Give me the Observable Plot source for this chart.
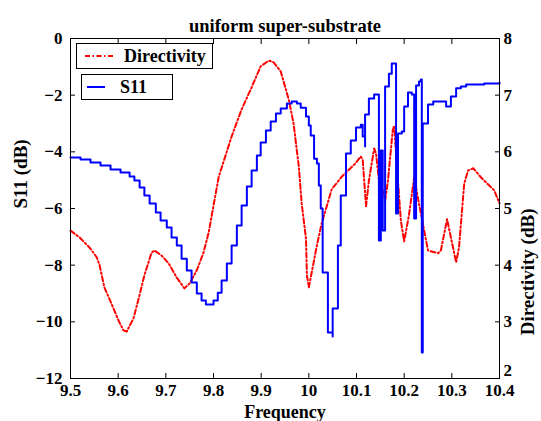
<!DOCTYPE html>
<html><head><meta charset="utf-8">
<script src="https://cdn.jsdelivr.net/npm/d3@7"></script>
<script src="https://cdn.jsdelivr.net/npm/@observablehq/plot@0.6"></script>
<style>body{margin:0;background:#fff} svg{display:block} svg text{font-family:"Liberation Serif","Times New Roman",Tinos,"DejaVu Serif",serif !important;}</style>
</head><body><div id="chart"></div>
<script>
const s11Freq = [9.500,9.521,9.542,9.563,9.584,9.605,9.624,9.634,9.645,9.655,9.666,9.679,9.689,9.702,9.712,9.723,9.733,9.744,9.754,9.765,9.775,9.784,9.794,9.800,9.809,9.817,9.828,9.838,9.849,9.859,9.870,9.880,9.891,9.899,9.910,9.920,9.931,9.941,9.954,9.964,9.975,9.983,9.994,10.000,10.004,10.011,10.017,10.021,10.025,10.029,10.029,10.040,10.040,10.050,10.050,10.061,10.061,10.067,10.067,10.078,10.088,10.099,10.109,10.113,10.118,10.118,10.126,10.126,10.137,10.143,10.147,10.151,10.155,10.160,10.168,10.168,10.174,10.174,10.179,10.183,10.187,10.195,10.200,10.200,10.208,10.216,10.221,10.225,10.231,10.235,10.237,10.239,10.250,10.261,10.273,10.288,10.294,10.298,10.309,10.319,10.330,10.368,10.400];
const s11Values = [-4.20,-4.27,-4.38,-4.48,-4.62,-4.73,-4.87,-5.01,-5.26,-5.54,-5.82,-6.14,-6.42,-6.67,-7.02,-7.31,-7.77,-8.19,-8.61,-9.00,-9.25,-9.39,-9.39,-9.25,-8.97,-8.54,-7.94,-7.31,-6.60,-5.89,-5.22,-4.66,-4.13,-3.67,-3.25,-2.93,-2.65,-2.47,-2.29,-2.22,-2.29,-2.44,-2.75,-3.07,-3.42,-4.24,-4.41,-5.19,-6.00,-6.14,-8.26,-8.54,-10.38,-10.52,-9.53,-9.28,-7.31,-7.06,-5.54,-4.06,-3.60,-3.14,-3.04,-3.46,-3.81,-2.68,-2.61,-2.12,-1.98,-1.98,-7.13,-3.95,-6.78,-1.69,-1.69,-1.24,-1.16,-0.88,-0.88,-6.18,-3.35,-3.28,-3.18,-2.40,-1.91,-1.98,-6.35,-1.66,-1.52,-1.45,-11.08,-3.00,-2.33,-2.22,-2.22,-2.40,-2.40,-2.05,-1.76,-1.69,-1.62,-1.59,-1.55];

const dirFreq = [9.500,9.519,9.540,9.555,9.561,9.571,9.586,9.601,9.611,9.618,9.632,9.643,9.655,9.670,9.676,9.691,9.706,9.723,9.739,9.750,9.765,9.779,9.790,9.800,9.811,9.838,9.859,9.878,9.899,9.916,9.926,9.941,9.958,9.968,9.979,9.985,9.994,9.996,10.000,10.006,10.017,10.027,10.038,10.048,10.069,10.097,10.109,10.113,10.120,10.126,10.137,10.141,10.151,10.155,10.160,10.166,10.176,10.179,10.187,10.193,10.200,10.210,10.221,10.231,10.242,10.250,10.271,10.277,10.290,10.309,10.315,10.326,10.334,10.345,10.361,10.389,10.400];
const dirValues = [4.61,4.49,4.31,4.14,4.00,3.61,3.32,3.02,2.85,2.83,3.06,3.41,3.82,4.22,4.26,4.17,4.03,3.78,3.59,3.68,3.91,4.22,4.58,5.05,5.56,6.27,6.75,7.10,7.51,7.61,7.58,7.42,6.92,6.50,5.74,5.09,4.47,3.82,3.61,3.87,4.35,4.74,5.05,5.34,5.56,5.79,5.92,5.86,5.04,5.49,6.06,5.97,5.19,5.32,5.14,5.49,6.38,6.46,5.49,4.79,4.42,4.88,5.55,5.09,4.61,4.26,4.21,4.26,4.81,4.05,4.31,5.44,5.67,5.71,5.55,5.32,5.09];

const xTicks = [9.5,9.6,9.7,9.8,9.9,10,10.1,10.2,10.3,10.4];
const s11Ticks = [0,-2,-4,-6,-8,-10,-12];
const dirTicks = [8,7,6,5,4,3,2];
const seriesNames = ["Directivity","S11"];
const titleText = "uniform super-substrate";
const xLabel = "Frequency";
const yLeftLabel = "S11 (dB)";
const yRightLabel = "Directivity (dB)";

// map directivity (2..8) onto the S11 scale (-12..0)
const toLeft = d => (d - 8) * 2;
const fromLeft = v => v / 2 + 8;

const s11Data = s11Freq.map((f, i) => ({f, v: s11Values[i]}));
const dirData = dirFreq.map((f, i) => ({f, v: toLeft(dirValues[i])}));

const font = "Liberation Serif, Times New Roman, DejaVu Serif, serif";
const xFmt = d => d === 10 ? "10" : d.toFixed(1);
const lastRight = dirTicks[dirTicks.length - 1];

const chart = Plot.plot({
  width: 541, height: 421,
  marginLeft: 70, marginRight: 42, marginTop: 38, marginBottom: 43,
  x: {domain: [9.5, 10.4]},
  y: {domain: [-12, 0]},
  style: {fontFamily: font, fontWeight: "bold", fontSize: "17px", background: "white", color: "black", overflow: "visible"},
  marks: [
    Plot.line(dirData, {x: "f", y: "v", stroke: "#ff0000", strokeWidth: 2, strokeDasharray: "5,2.5,1.5,2.5"}),
    Plot.line(s11Data, {x: "f", y: "v", stroke: "#0000ff", strokeWidth: 2, curve: "step-after"}),
    Plot.frame({stroke: "black", strokeWidth: 1}),
    Plot.axisX(xTicks, {anchor: "bottom", tickSize: -5, tickFormat: () => "", label: null}),
    Plot.axisX(xTicks, {anchor: "top", tickSize: -5, tickFormat: () => "", label: null}),
    Plot.axisX(xTicks, {anchor: "bottom", tickSize: 0, tickPadding: 5, tickFormat: xFmt, label: null, fontSize: 17}),
    Plot.axisY(s11Ticks, {anchor: "left", tickSize: -5, tickFormat: () => "", label: null}),
    Plot.axisY(s11Ticks, {anchor: "left", tickSize: 0, tickPadding: 8, label: null, fontSize: 17}),
    Plot.axisY(dirTicks.map(toLeft), {anchor: "right", tickSize: -5, tickFormat: () => "", label: null}),
    Plot.axisY(dirTicks.filter(t => t !== lastRight).map(toLeft), {anchor: "right", tickSize: 0, tickPadding: 4, tickFormat: fromLeft, label: null, fontSize: 17}),
    Plot.axisY([toLeft(lastRight)], {anchor: "right", tickSize: 0, tickPadding: 4, tickFormat: fromLeft, label: null, fontSize: 17, dy: -8}),
    Plot.text([titleText], {frameAnchor: "top", dy: -20, fontSize: 18.5, fontWeight: "bold"}),
    Plot.text([xLabel], {frameAnchor: "bottom", dy: 39, fontSize: 18, fontWeight: "bold"}),
    Plot.text([yLeftLabel], {frameAnchor: "left", dx: -50, rotate: -90, fontSize: 19, fontWeight: "bold"}),
    Plot.text([yRightLabel], {frameAnchor: "right", dx: 28, rotate: -90, fontSize: 19, fontWeight: "bold"})
  ]
});

// legend boxes
const svg = d3.select(chart);
const lg = svg.append("g").attr("font-family", font).attr("font-size", 18).attr("font-weight", "bold").attr("text-anchor", "start");
const boxes = [
  {x: 76, y: 43, w: 136, h: 25, color: "#ff0000", dash: "5,2.5,1.5,2.5", lx1: 85, lx2: 113, tx: 124},
  {x: 81, y: 74, w: 91, h: 25, color: "#0000ff", dash: null, lx1: 87, lx2: 105, tx: 120}
];
boxes.forEach((b, i) => {
  lg.append("rect").attr("x", b.x + 0.5).attr("y", b.y + 0.5).attr("width", b.w).attr("height", b.h)
    .attr("fill", "white").attr("stroke", "black").attr("stroke-width", 1);
  lg.append("line").attr("x1", b.lx1).attr("x2", b.lx2).attr("y1", b.y + b.h / 2 + 0.5).attr("y2", b.y + b.h / 2 + 0.5)
    .attr("stroke", b.color).attr("stroke-width", 2).attr("stroke-dasharray", b.dash);
  lg.append("text").attr("x", b.tx).attr("y", b.y + b.h / 2 + 0.5).attr("dy", "0.35em").attr("text-anchor", "start").text(seriesNames[i]);
});

document.getElementById("chart").appendChild(chart);
</script>
</body></html>
